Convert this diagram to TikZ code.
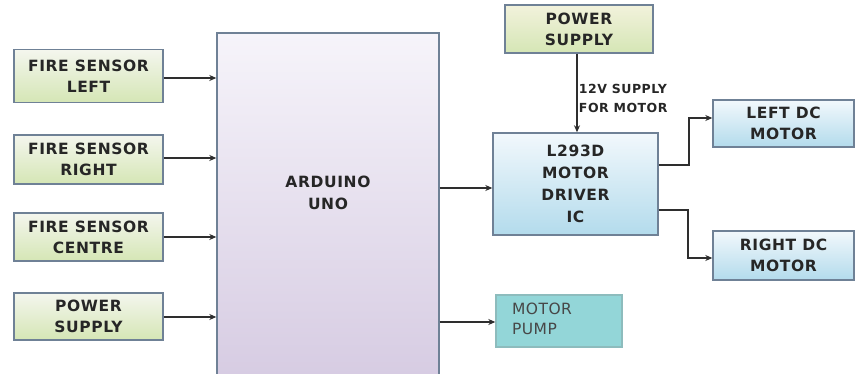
\documentclass[tikz,border=0pt]{standalone}
\usepackage{fontspec}
\setmainfont{DejaVu Sans}[LetterSpace=4]
\usetikzlibrary{arrows.meta}
\definecolor{bordc}{HTML}{6F8196}
\definecolor{linec}{HTML}{2E2E2E}
\definecolor{greenb}{HTML}{D5E6B5}
\definecolor{greent}{HTML}{F4F6EE}
\definecolor{yelt}{HTML}{F2F2DC}
\definecolor{bluet}{HTML}{F2F8FC}
\definecolor{blueb}{HTML}{B3DBEC}
\definecolor{lavt}{HTML}{F6F4FA}
\definecolor{lavb}{HTML}{D6CBE2}
\definecolor{pumpc}{HTML}{93D6D8}
\definecolor{txtc}{HTML}{262626}
\tikzset{
  box/.style={draw=bordc, line width=1.4pt, inner sep=0pt, align=center,
    font=\fontsize{15.5}{21}\selectfont\bfseries, text=txtc},
  greenbox/.style={box, top color=greent, bottom color=greenb},
  bluebox/.style={box, top color=bluet, bottom color=blueb},
  conn/.style={draw=linec, line width=1.3pt, -{Stealth[length=7pt,width=6pt]}},
}
\begin{document}
\begin{tikzpicture}[x=1pt,y=-1pt]
\useasboundingbox (0,0) rectangle (855,374);
\fill[white] (0,0) rectangle (855,374);
\clip (0,0) rectangle (855,374);
% left inputs
\node[greenbox, minimum width=149pt, minimum height=53pt] (fl) at (88.5,76) {FIRE SENSOR\\LEFT};
\node[greenbox, minimum width=149pt, minimum height=49pt] (fr) at (88.5,159.5) {FIRE SENSOR\\RIGHT};
\node[greenbox, minimum width=149pt, minimum height=48pt] (fc) at (88.5,237) {FIRE SENSOR\\CENTRE};
\node[greenbox, minimum width=149pt, minimum height=47pt] (ps1) at (88.5,316.5) {POWER\\SUPPLY};
% arduino
\node[box, top color=lavt, bottom color=lavb, minimum width=222pt, minimum height=350pt] (ard) at (328,208) {\raisebox{46pt}{\begin{tabular}{@{}c@{}}ARDUINO\\[1pt]UNO\end{tabular}}};
% top power supply
\node[greenbox, top color=yelt, minimum width=148pt, minimum height=48pt] (ps2) at (579,29) {POWER\\SUPPLY};
% driver
\node[bluebox, minimum width=165pt, minimum height=102pt, font=\fontsize{15.5}{22}\selectfont\bfseries] (drv) at (575.5,184) {L293D\\MOTOR\\DRIVER\\IC};
% motors
\node[bluebox, minimum width=141pt, minimum height=47pt] (lm) at (783.5,123.5) {LEFT DC\\MOTOR};
\node[bluebox, minimum width=141pt, minimum height=49pt] (rm) at (783.5,255.5) {RIGHT DC\\MOTOR};
\node[box, fill=pumpc, draw=pumpc!70!gray, minimum width=126pt, minimum height=52pt,
  font=\fontsize{15.5}{20}\selectfont\addfontfeature{LetterSpace=3}, text=txtc!85, align=left] (pump) at (559,321) {\hspace*{-34pt}\raisebox{-9pt}{\begin{tabular}{@{}l@{}}MOTOR\\[0pt]PUMP\end{tabular}}};
% connectors
\draw[conn] (fl.east |- 0,78) -- (ard.west |- 0,78);
\draw[conn] (fr.east |- 0,158) -- (ard.west |- 0,158);
\draw[conn] (fc.east |- 0,237) -- (ard.west |- 0,237);
\draw[conn] (ps1.east |- 0,317) -- (ard.west |- 0,317);
\draw[conn] (ard.east |- 0,188) -- (drv.west |- 0,188);
\draw[conn] (ard.east |- 0,322) -- (pump.west |- 0,322);
\draw[conn] (ps2.south -| 577,0) -- (drv.north -| 577,0)
  node[pos=0.57, right=-2pt, align=left, font=\fontsize{12.5}{19}\selectfont\bfseries, text=txtc] (lbl) {12V SUPPLY\\FOR MOTOR};
\draw[conn] (drv.east |- 0,165) -- (689,165) -- (689,118) -- (lm.west |- 0,118);
\draw[conn] (drv.east |- 0,210) -- (688,210) -- (688,258) -- (rm.west |- 0,258);
\end{tikzpicture}
\end{document}
